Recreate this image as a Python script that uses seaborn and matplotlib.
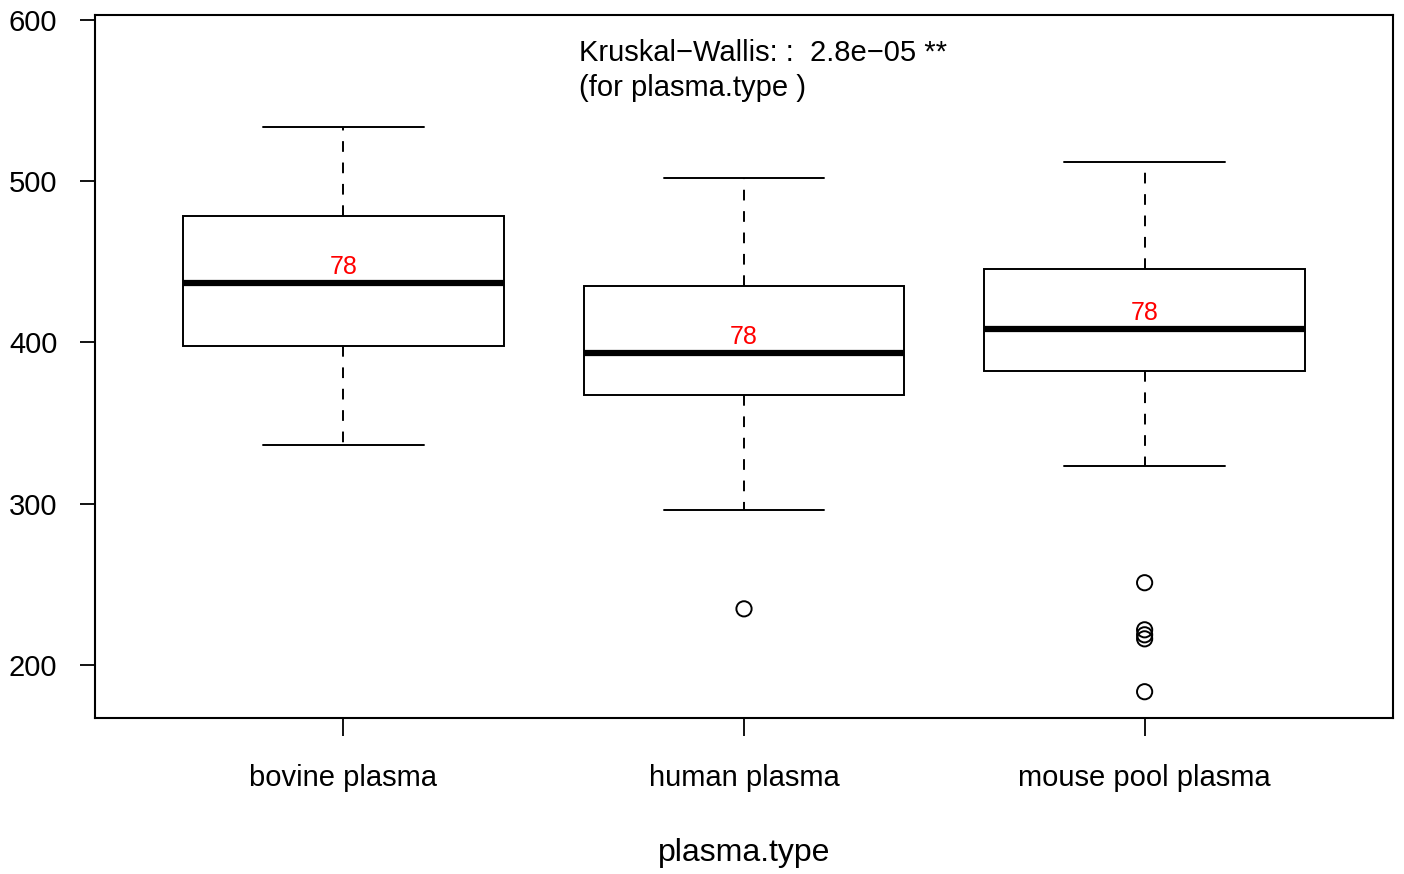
import pandas as pd
import matplotlib.pyplot as plt
import seaborn as sns

# box summaries: lower whisker, Q1, median, Q3, upper whisker
groups = ["bovine plasma", "human plasma", "mouse pool plasma"]
lower_whisker = [336.4, 296.1, 323.4]
q1 = [397.8, 367.4, 382.3]
median = [436.9, 393.5, 408.4]
q3 = [478.4, 435.0, 445.6]
upper_whisker = [533.6, 502.0, 511.9]
counts = [78, 78, 78]

# outliers
outlier_group = ["human plasma", "mouse pool plasma", "mouse pool plasma",
                 "mouse pool plasma", "mouse pool plasma", "mouse pool plasma"]
outlier_value = [234.7, 250.9, 221.7, 218.6, 216.1, 183.3]

rows = []
for i, g in enumerate(groups):
    for v in [lower_whisker[i], q1[i], median[i], q3[i], upper_whisker[i]]:
        rows.append({"plasma.type": g, "value": v})
df = pd.DataFrame(rows)
df_out = pd.DataFrame({"plasma.type": outlier_group, "value": outlier_value})

sns.set_style("white")
plt.rcParams['font.family'] = ['Liberation Sans', 'DejaVu Sans']
plt.rcParams['text.color'] = 'black'
plt.rcParams['xtick.color'] = 'black'
plt.rcParams['ytick.color'] = 'black'
plt.rcParams['axes.labelcolor'] = 'black'

fig, ax = plt.subplots(figsize=(14.04, 8.74), dpi=100)
fig.subplots_adjust(left=95/1404, right=1393/1404, top=1-15/874, bottom=1-718/874)

sns.boxplot(data=df, x="plasma.type", y="value", order=groups, ax=ax,
            width=0.8, whis=1.5, showfliers=False, color="white",
            linecolor="black", linewidth=1.4, saturation=1,
            whiskerprops=dict(linestyle=(0, (5.5, 5.5))),
            medianprops=dict(linewidth=4.5),
            capwidths=0.4)

sns.scatterplot(data=df_out, x="plasma.type", y="value", ax=ax,
                marker="o", s=120, facecolor="none", edgecolor="black",
                linewidth=1.4, zorder=5)

for i, g in enumerate(groups):
    ax.annotate(str(counts[i]), xy=(i, median[i]), xytext=(0, 3),
                textcoords="offset points", ha="center", va="bottom",
                color="red", fontsize=18)

ax.text(0.3729, 0.946, "Kruskal\u2212Wallis: :  2.8e\u221205 **", transform=ax.transAxes,
        ha="left", va="center", fontsize=21)
ax.text(0.3729, 0.896, "(for plasma.type )", transform=ax.transAxes,
        ha="left", va="center", fontsize=21)

ax.set_xlim(-0.62, 2.62)
ax.set_ylim(167, 603)
ax.set_yticks([200, 300, 400, 500, 600])
ax.set_xlabel("plasma.type", fontsize=23, labelpad=33)
ax.set_ylabel("")
ax.tick_params(axis="both", which="both", direction="out", width=1.3,
               color="black", labelsize=21, left=True, bottom=True)
ax.tick_params(axis="x", length=13, pad=20)
ax.tick_params(axis="y", length=11, pad=16)
for s in ax.spines.values():
    s.set_visible(True)
    s.set_color("black")
    s.set_linewidth(1.5)

plt.savefig("out.png", dpi=100)
